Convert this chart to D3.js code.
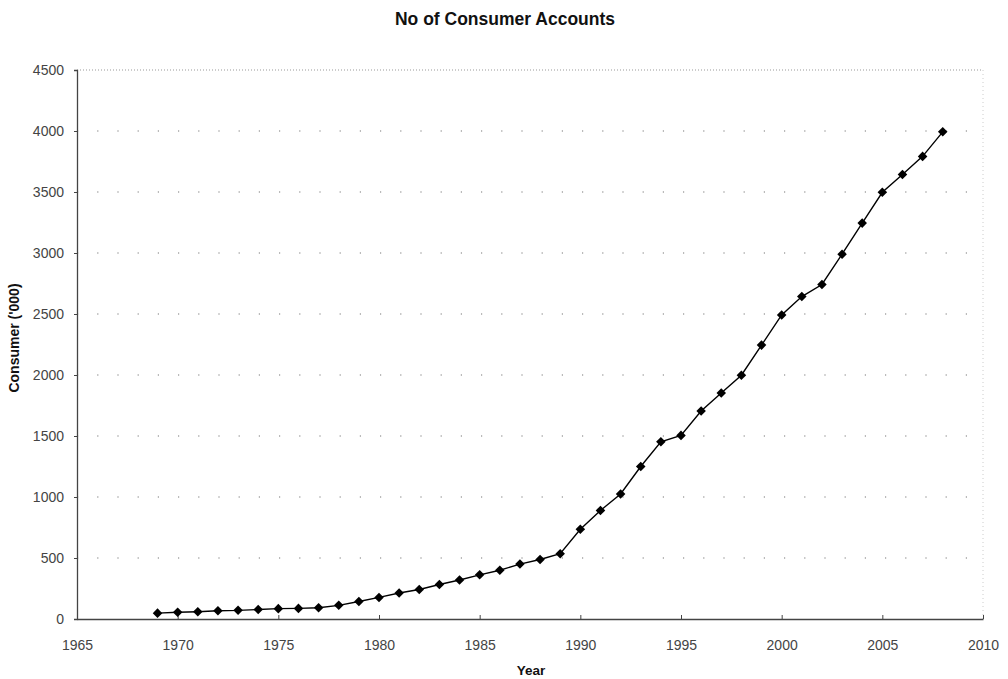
<!DOCTYPE html>
<html>
<head>
<meta charset="utf-8">
<script src="https://cdn.jsdelivr.net/npm/d3@7"></script>
<style>
  html, body { margin: 0; padding: 0; background: #fff; }
  svg { display: block; font-family: "Liberation Sans", Arial, sans-serif; }
</style>
</head>
<body>
<svg id="chart" width="1008" height="679"></svg>
<script>
// Consumer accounts ('000) by year
const years = [1969, 1970, 1971, 1972, 1973, 1974, 1975, 1976, 1977, 1978,
               1979, 1980, 1981, 1982, 1983, 1984, 1985, 1986, 1987, 1988,
               1989, 1990, 1991, 1992, 1993, 1994, 1995, 1996, 1997, 1998,
               1999, 2000, 2001, 2002, 2003, 2004, 2005, 2006, 2007, 2008];
const accounts = [48, 55, 60, 68, 71, 78, 85, 87, 92, 112,
                  143, 177, 213, 242, 283, 320, 362, 400, 450, 488,
                  535, 735, 890, 1025, 1250, 1453, 1505, 1705, 1852, 1998,
                  2245, 2492, 2643, 2742, 2990, 3245, 3498, 3643, 3792, 3993];
const xTicks = [1965, 1970, 1975, 1980, 1985, 1990, 1995, 2000, 2005, 2010];
const yTicks = [0, 500, 1000, 1500, 2000, 2500, 3000, 3500, 4000, 4500];

const svg = d3.select("#chart");
const plot = { left: 77, right: 983, top: 70, bottom: 619 };

const x = d3.scaleLinear().domain([1965, 2010]).range([plot.left, plot.right]);
const y = d3.scaleLinear().domain([0, 4500]).range([plot.bottom, plot.top]);

// Title
svg.append("text")
  .attr("x", 505).attr("y", 25)
  .attr("text-anchor", "middle")
  .attr("font-size", 17.5).attr("font-weight", "bold").attr("fill", "#111")
  .text("No of Consumer Accounts");

// Dotted horizontal gridlines
svg.append("g")
  .selectAll("line")
  .data(yTicks.filter(d => d > 0 && d < 4500))
  .join("line")
  .attr("x1", plot.left).attr("x2", plot.right)
  .attr("y1", d => y(d)).attr("y2", d => y(d))
  .attr("stroke", "#777").attr("stroke-width", 1.2)
  .attr("stroke-dasharray", "1.2,19");

// Plot area top and right edges (fine dots)
svg.append("line")
  .attr("x1", plot.left).attr("x2", plot.right)
  .attr("y1", y(4500)).attr("y2", y(4500))
  .attr("stroke", "#999").attr("stroke-width", 1)
  .attr("stroke-dasharray", "1,2");
svg.append("line")
  .attr("x1", plot.right).attr("x2", plot.right)
  .attr("y1", y(4500)).attr("y2", y(0))
  .attr("stroke", "#ccc").attr("stroke-width", 1)
  .attr("stroke-dasharray", "1,3");

// Y axis
const yAxis = svg.append("g")
  .attr("transform", `translate(${plot.left},0)`)
  .call(d3.axisLeft(y).tickValues(yTicks).tickSize(3).tickPadding(10).tickFormat(d3.format("d")));
yAxis.select(".domain").attr("stroke", "#444").attr("stroke-width", 1.3);
yAxis.selectAll(".tick line").attr("stroke", "#444");
yAxis.selectAll(".tick text")
  .attr("font-size", 14).attr("fill", "#444")
  .attr("font-family", "Liberation Sans, Arial, sans-serif");

// X axis
const xAxis = svg.append("g")
  .attr("transform", `translate(0,${plot.bottom})`)
  .call(d3.axisBottom(x).tickValues(xTicks).tickSizeInner(-4).tickSizeOuter(0).tickPadding(21).tickFormat(d3.format("d")));
xAxis.select(".domain").attr("stroke", "#444").attr("stroke-width", 1.3);
xAxis.selectAll(".tick line").attr("stroke", "#444");
xAxis.selectAll(".tick text")
  .attr("font-size", 14).attr("fill", "#444")
  .attr("font-family", "Liberation Sans, Arial, sans-serif");

// Axis titles
svg.append("text")
  .attr("x", 531).attr("y", 675)
  .attr("text-anchor", "middle")
  .attr("font-size", 13.5).attr("font-weight", "bold").attr("fill", "#111")
  .text("Year");
svg.append("text")
  .attr("transform", "translate(19,338) rotate(-90)")
  .attr("text-anchor", "middle")
  .attr("font-size", 14).attr("font-weight", "bold").attr("fill", "#111")
  .text("Consumer ('000)");

// Series line
const series = years.map((yr, i) => ({ year: yr, value: accounts[i] }));
svg.append("path")
  .datum(series)
  .attr("fill", "none")
  .attr("stroke", "#000").attr("stroke-width", 1.4)
  .attr("d", d3.line().x(d => x(d.year)).y(d => y(d.value)));

// Diamond markers
svg.append("g")
  .selectAll("path")
  .data(series)
  .join("path")
  .attr("transform", d => `translate(${x(d.year)},${y(d.value)})`)
  .attr("d", d3.symbol().type(d3.symbolDiamond2).size(58))
  .attr("fill", "#000");
</script>
</body>
</html>
